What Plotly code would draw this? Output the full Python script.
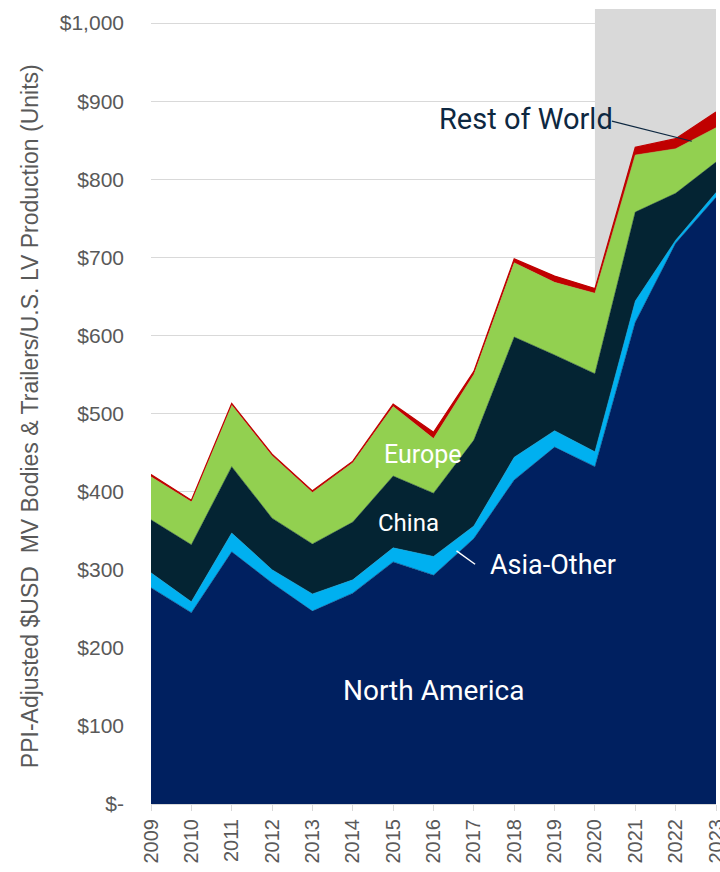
import plotly.graph_objects as go

years = list(range(2009, 2024))
north_america = [277, 245, 323, 283, 247, 270, 310, 293, 340, 415, 457, 432, 617, 718, 777]
asia_other = [19, 14, 24, 17, 22, 17, 18, 24, 16, 29, 21, 19, 27, 4, 6]
china = [68, 73, 85, 66, 64, 74, 92, 81, 110, 154, 97, 100, 114, 60, 39]
europe = [55, 55, 79, 80, 66, 76, 89, 70, 84, 95, 93, 103, 73, 57, 44]
rest_of_world = [3, 2, 2, 2, 2, 2, 3, 8, 4, 5, 8, 6, 10, 13, 20]

series = [
    ("North America", north_america, "#002060"),
    ("Asia-Other", asia_other, "#00B0F0"),
    ("China", china, "#042433"),
    ("Europe", europe, "#92D050"),
    ("Rest of World", rest_of_world, "#C00000"),
]

y_tickvals = [0, 100, 200, 300, 400, 500, 600, 700, 800, 900, 1000]
y_ticktext = ["$-", "$100", "$200", "$300", "$400", "$500", "$600", "$700", "$800", "$900", "$1,000"]
y_max = 1018

fig = go.Figure()
for name, vals, color in series:
    fig.add_trace(go.Scatter(
        x=years, y=vals, name=name, mode="lines", stackgroup="one",
        line=dict(color=color, width=1.2 if name == "Rest of World" else 0.5),
        fillcolor=color, hoverinfo="x+y+name",
    ))

# shaded recent region
fig.add_shape(type="rect", xref="x", yref="y", x0=2020, x1=2023, y0=0, y1=y_max,
              fillcolor="#D9D9D9", line=dict(width=0), layer="between")

# leader lines
fig.add_shape(type="line", xref="x", yref="y", x0=2016.57, y0=324, x1=2017.03, y1=307,
              line=dict(color="white", width=1.5))
fig.add_shape(type="line", xref="x", yref="y", x0=2020.42, y0=874.5, x1=2022.40, y1=848.7,
              line=dict(color="#0E2841", width=1.2))

ann_font = "Roboto, Open Sans, sans-serif"
anns = [
    ("North America", 2016.0, 145, "white", 28),
    ("Europe", 2015.74, 447, "white", 25),
    ("China", 2015.37, 360, "white", 24),
    ("Asia-Other", 2018.96, 306, "white", 27),
    ("Rest of World", 2018.29, 877, "#0E2841", 29),
]
for text, x, y, color, size in anns:
    fig.add_annotation(x=x, y=y, xref="x", yref="y", text=text, showarrow=False,
                       font=dict(family=ann_font, size=size, color=color),
                       xanchor="center", yanchor="middle")

fig.add_annotation(
    xref="paper", yref="paper", x=-0.214, y=0.488, textangle=-90,
    text="PPI-Adjusted $USD\u00a0\u00a0MV Bodies & Trailers/U.S. LV Production (Units)",
    showarrow=False, xanchor="center", yanchor="middle",
    font=dict(family="Liberation Sans, Arial, sans-serif", size=23, color="#595959"),
)

fig.update_layout(
    width=720, height=872,
    margin=dict(l=151, r=4, t=9, b=68, autoexpand=False),
    paper_bgcolor="white", plot_bgcolor="white",
    showlegend=False,
    font=dict(family="Liberation Sans, Arial, sans-serif", color="#595959"),
)
fig.update_xaxes(
    range=[2009, 2023], tickmode="array", tickvals=years, ticktext=[str(y) for y in years],
    tickangle=-90, tickfont=dict(size=20, color="#595959"), ticklabeloverflow="allow",
    ticks="outside", ticklen=6, tickcolor="#D9D9D9", automargin=False,
    showgrid=False, showline=True, linecolor="#D9D9D9", linewidth=1, zeroline=False,
)
fig.update_yaxes(
    range=[0, y_max], tickmode="array", tickvals=y_tickvals, ticktext=y_ticktext,
    tickfont=dict(size=21, color="#595959"), ticklabelstandoff=26, automargin=False,
    showgrid=True, gridcolor="#D9D9D9", gridwidth=1, zeroline=False, showline=False,
)

fig.write_html("out.html")
